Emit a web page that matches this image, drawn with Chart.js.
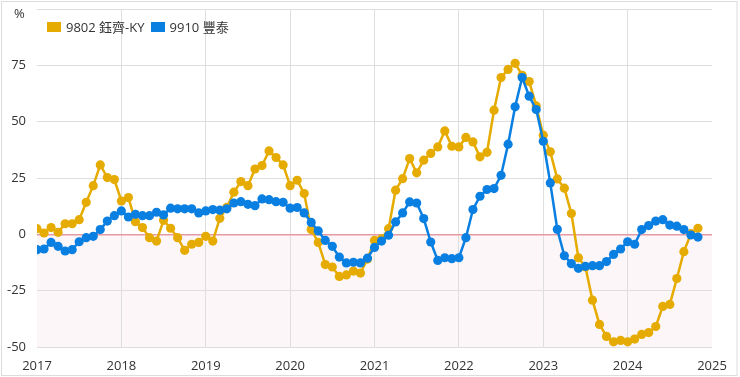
<!DOCTYPE html>
<html>
<head>
<meta charset="utf-8">
<script src="https://cdn.jsdelivr.net/npm/chart.js@4.4.1/dist/chart.umd.min.js"></script>
<style>
  html, body { margin: 0; padding: 0; background: #fff; }
  #wrap { position: relative; width: 740px; height: 377px; font-family: "Open Sans", "Noto Sans CJK TC", sans-serif; }
  #chart { position: absolute; left: 0; top: 0; }
  #unit { position: absolute; left: 14px; top: 4px; font-size: 13px; color: #333; }
  #legend { position: absolute; left: 47px; top: 17px; display: flex; font-size: 13px; color: #333; }
  #legend .item { display: flex; align-items: center; margin-right: 6px; }
  #legend .box { width: 14px; height: 10px; margin-right: 5px; box-sizing: border-box; }
</style>
</head>
<body>
<div id="wrap">
  <canvas id="chart" width="740" height="377"></canvas>
  <span id="unit">%</span>
  <div id="legend"></div>
</div>
<script>
  // monthly values, Jan 2017 .. Nov 2024
  const startYear = 2017;
  const endYear = 2025;
  const seriesNames = ["9802 鈺齊-KY", "9910 豐泰"];
  const seriesColors = ["#e6ab00", "#0a7fe2"];

  const yuqi = [
    2.5, 0.6, 3, 0.9, 4.7, 4.7, 6.5, 14.2, 21.6, 30.8, 25.2, 24.3,
    14.8, 16.3, 5.6, 3, -1.5, -3, 6.2, 2.7, -1.5, -7.1, -4.4, -3.6,
    -0.9, -3, 7.1, 12, 18.7, 23.4, 21.6, 29, 30.5, 37, 34.1, 30.8,
    21.6, 24, 18.1, 2.1, -3.6, -13.4, -14.5, -18.7, -18, -16.3, -17.2, -11,
    -2.7, -2, 2.5, 19.6, 24.7, 33.6, 27.3, 32.9, 35.9, 38.8, 45.9, 39.1,
    38.8, 43, 41, 34.4, 36.4, 55.1, 69.6, 73.2, 75.9, 70.6, 67.8, 57,
    44, 36.6, 24.6, 20.5, 9.2, -10.4, -14.5, -29.2, -40, -45.3, -47.7, -47.1,
    -47.7, -46.5, -44.4, -43.6, -40.9, -32, -31.1, -19.6, -7.7, 0.3, 2.7
  ];
  const fengtai = [
    -6.8, -6.5, -3.6, -5.3, -7.4, -6.8, -3.3, -1.5, -0.9, 2.1, 5.9, 8.3,
    10.4, 7.7, 8.9, 8.3, 8.3, 9.8, 8.6, 11.6, 11.3, 11.3, 11.3, 9.5,
    10.4, 11, 10.7, 11.3, 13.9, 14.5, 13.3, 12.7, 15.7, 15.4, 14.5, 14.2,
    11.6, 11.9, 9.5, 5.3, 1.5, -2.7, -5.3, -10.1, -12.7, -12.4, -12.7, -10.6,
    -5.8, -3, -0.4, 5.5, 9.5, 14.4, 13.9, 7, -3.4, -11.6, -10.4, -10.8,
    -10.4, -1.5, 11, 16.9, 19.9, 20.3, 26.2, 40, 56.6, 69.6, 61.3, 55.4,
    41.3, 22.8, 2.2, -9.5, -13, -15.1, -14.2, -13.9, -13.9, -12.1, -8.9, -6.5,
    -3.3, -4.4, 2.1, 3.9, 5.9, 6.5, 4.1, 3.6, 2.1, -0.3, -1.2
  ];
  const yTicks = [-50, -25, 0, 25, 50, 75, 100];

  const toPoints = (arr) => arr.map((v, i) => ({ x: startYear + i / 12, y: v }));

  function lineSet(label, values, color, order) {
    return {
      label: label,
      data: toPoints(values),
      borderColor: color,
      backgroundColor: color,
      pointBackgroundColor: color,
      pointBorderWidth: 0,
      pointRadius: 4.6,
      borderWidth: 2.5,
      tension: 0,
      order: order
    };
  }

  // pink band below zero + outer frame
  const bands = {
    id: "bands",
    beforeDraw(chart) {
      const { ctx, chartArea: a, scales } = chart;
      const y0 = scales.y.getPixelForValue(0);
      ctx.save();
      ctx.fillStyle = "#fdf6f8";
      ctx.fillRect(a.left, y0, a.right - a.left, a.bottom - y0);
      ctx.restore();
    },
    afterDraw(chart) {
      const ctx = chart.ctx;
      ctx.save();
      ctx.strokeStyle = "#dcdcdc";
      ctx.lineWidth = 1;
      ctx.strokeRect(1.5, 1.5, 735.5, 374);
      ctx.restore();
    }
  };

  const chart = new Chart(document.getElementById("chart"), {
    type: "line",
    data: {
      datasets: [
        lineSet(seriesNames[0], yuqi, seriesColors[0], 1),
        lineSet(seriesNames[1], fengtai, seriesColors[1], 0)
      ]
    },
    options: {
      responsive: false,
      animation: false,
      devicePixelRatio: 1,
      layout: { padding: { top: 0, right: 28, bottom: 0, left: 0 } },
      plugins: { legend: { display: false }, tooltip: { enabled: false } },
      scales: {
        x: {
          type: "linear",
          min: startYear,
          max: endYear,
          border: { display: false },
          grid: {
            drawTicks: false,
            color: (c) => (c.tick && (c.tick.value === startYear || c.tick.value === endYear)) ? "rgba(0,0,0,0)" : "#dedede"
          },
          ticks: {
            stepSize: 1,
            padding: 11,
            color: "#333",
            font: { family: "'Open Sans', sans-serif", size: 13 },
            callback: (v) => String(v)
          },
          afterFit: (s) => { s.height = 30; }
        },
        y: {
          min: -50,
          max: 100,
          border: { display: false },
          afterBuildTicks: (s) => { s.ticks = yTicks.map(v => ({ value: v })); },
          grid: {
            drawTicks: false,
            color: (c) => (c.tick && c.tick.value === 0) ? "#e59aa3" : "#dedede",
            lineWidth: (c) => (c.tick && c.tick.value === 0) ? 1.5 : 1
          },
          ticks: {
            padding: 11,
            color: "#333",
            font: { family: "'Open Sans', sans-serif", size: 13 },
            callback: (v) => v === 100 ? "" : String(v)
          },
          afterFit: (s) => { s.width = 37; s.paddingTop = 9; s.paddingBottom = 0; }
        }
      }
    },
    plugins: [bands]
  });

  // legend laid over the plot, top left
  const legend = document.getElementById("legend");
  chart.data.datasets.forEach((ds) => {
    const item = document.createElement("div");
    item.className = "item";
    const box = document.createElement("span");
    box.className = "box";
    box.style.background = ds.borderColor;
    const txt = document.createElement("span");
    txt.textContent = ds.label;
    item.appendChild(box);
    item.appendChild(txt);
    legend.appendChild(item);
  });
</script>
</body>
</html>
